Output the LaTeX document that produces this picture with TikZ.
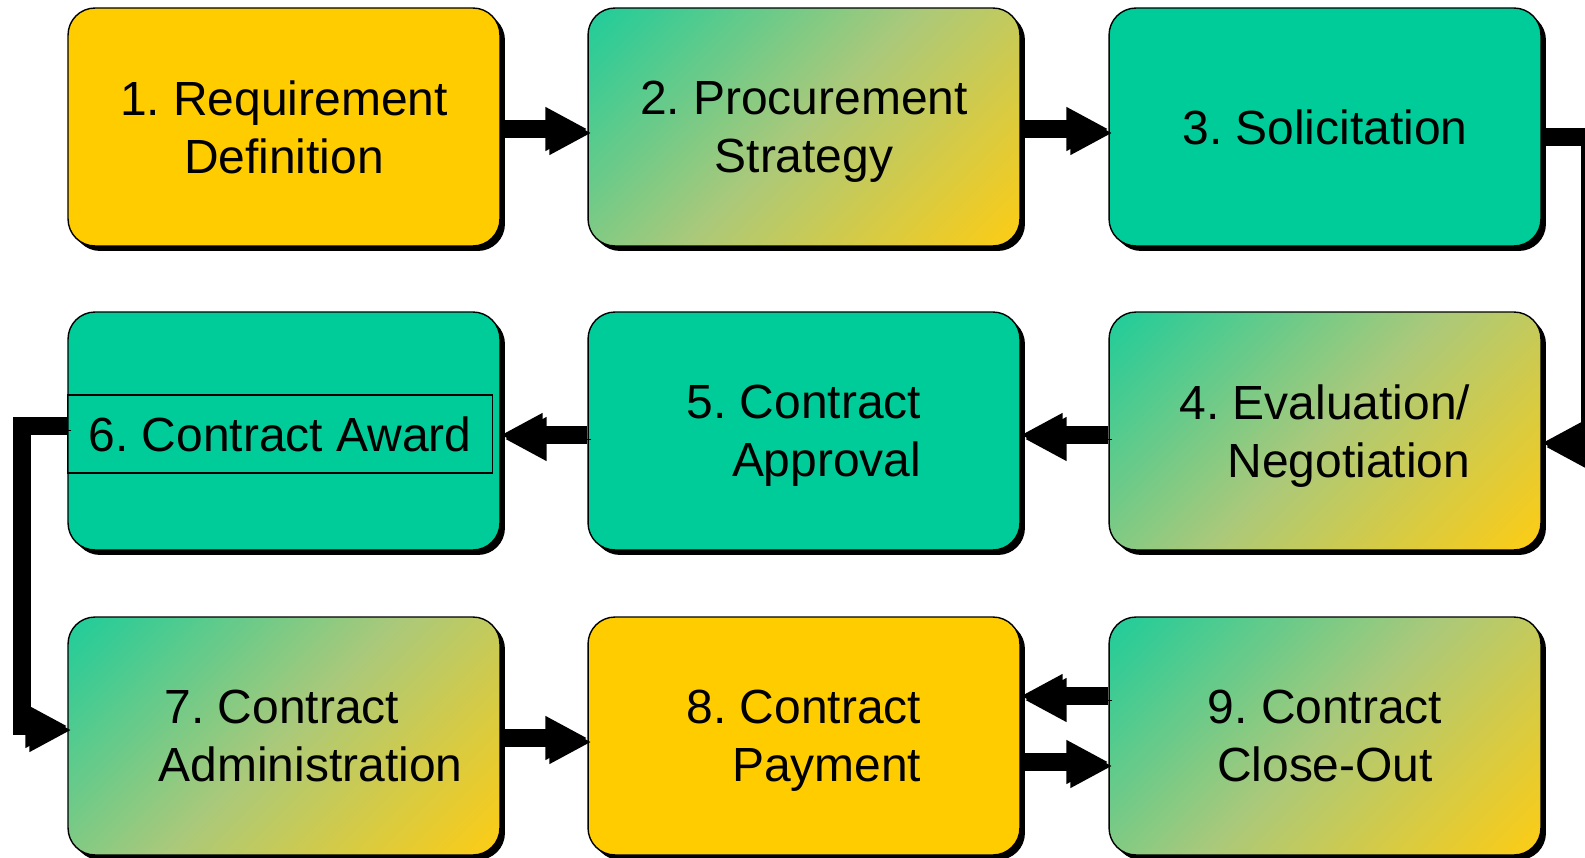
\documentclass[tikz,border=0pt]{standalone}
\usepackage{fontspec}
\setmainfont{Liberation Sans}
\frenchspacing
\usetikzlibrary{arrows.meta, shadows}
\definecolor{procYellow}{HTML}{FFCC00}
\definecolor{procTeal}{HTML}{00CC99}
\definecolor{fadeTeal}{HTML}{20CC9A}
\definecolor{fadeMid}{HTML}{ABC97A}
\definecolor{fadeYellow}{HTML}{FDCC14}
\pgfdeclarehorizontalshading{stagefade}{100bp}{color(0bp)=(fadeTeal); color(15bp)=(fadeTeal);
  color(50bp)=(fadeMid); color(85bp)=(fadeYellow); color(100bp)=(fadeYellow)}

\tikzset{
  stage/.style={draw=black, line width=0.8pt, rounded corners=0.54cm,
    minimum width=8.64cm, minimum height=4.76cm, align=center, text depth=-0.14cm,
    font=\fontsize{27.3}{32.8}\selectfont,
    drop shadow={fill=black, opacity=1, shadow xshift=0.1cm, shadow yshift=-0.1cm}},
  faded/.style={shading=stagefade, shading angle=-45},
  flow/.style={line width=0.36cm, line join=miter,
    -{Triangle[length=0.84cm, width=0.82cm]},
    preaction={draw, transform canvas={xshift=0.08cm, yshift=-0.08cm}}}
}

\begin{document}
\begin{tikzpicture}[x=0.02cm, y=-0.02cm]
		\clip (0,0) rectangle (1585,858);
		%%%%%%%%%%%%%
		\node[stage, fill=procYellow] (b1) at (284,127) {1. Requirement\\Definition};
		\node[stage, faded] (b2) at (804,127) {2. Procurement\\Strategy};
		\node[stage, fill=procTeal] (b3) at (1325,127) {3. Solicitation};
		\node[stage, faded, align=right] (b4) at (1325,431) {4. Evaluation/\\Negotiation};
		\node[stage, fill=procTeal, align=right] (b5) at (804,431) {5. Contract\\Approval};
		\node[stage, fill=procTeal] (b6) at (284,431) {};
		\node[draw, line width=0.6pt, minimum width=8.52cm, minimum height=1.56cm, inner sep=0pt,
			font=\fontsize{27.3}{32.8}\selectfont] (award) at (280,434) {6. Contract Award};
		\node[stage, faded, align=left] (b7) at (284,736) {\hspace*{1.18cm}7. Contract\\\hspace*{1.06cm}Administration};
		\node[stage, fill=procYellow, align=right] (b8) at (804,736) {8. Contract\\Payment};
		\node[stage, faded] (b9) at (1325,736) {9. Contract\\Close-Out};
		%%%%%%%%%%%%%
		\draw[flow] ([yshift=-0.04cm]b1.east) -- ([yshift=-0.04cm]b2.west);
		\draw[flow] ([yshift=-0.04cm]b2.east) -- ([yshift=-0.04cm]b3.west);
		\draw[flow] ([yshift=-0.2cm]b3.east) -- ++(0.97cm,0) |- ([yshift=-0.24cm]b4.east);
		\draw[flow] ([yshift=-0.08cm]b4.west) -- ([yshift=-0.08cm]b5.east);
		\draw[flow] ([yshift=-0.08cm]b5.west) -- ([yshift=-0.08cm]b6.east);
		\draw[flow] ([yshift=0.1cm]b6.west) -- ++(-0.91cm,0) |- ([yshift=0.2cm]b7.west);
		\draw[flow] ([yshift=-0.04cm]b7.east) -- ([yshift=-0.04cm]b8.west);
		\draw[flow] ([yshift=0.8cm]b9.west) -- ([yshift=0.8cm]b8.east);
		\draw[flow] ([yshift=-0.52cm]b8.east) -- ([yshift=-0.52cm]b9.west);
\end{tikzpicture}
\end{document}
